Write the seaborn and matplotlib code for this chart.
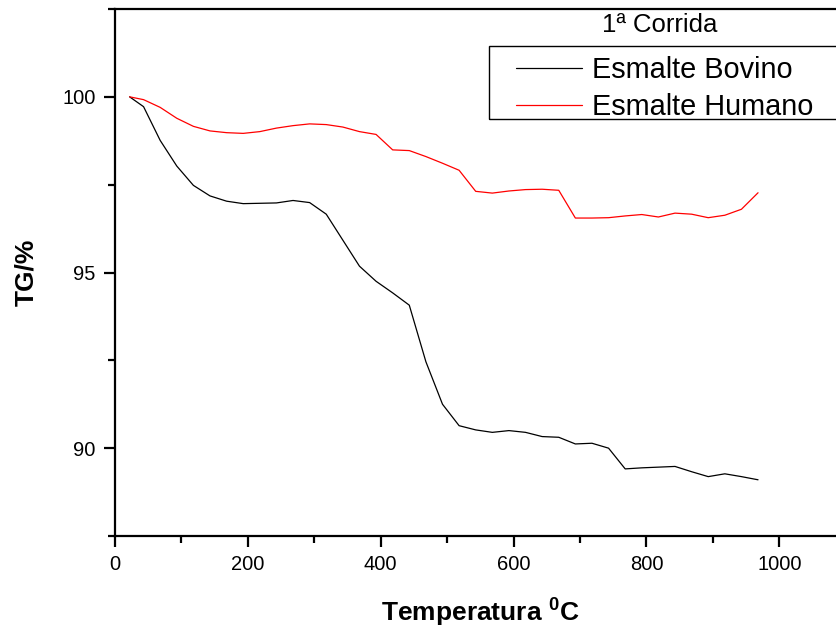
import matplotlib
matplotlib.use("Agg")
import matplotlib.pyplot as plt
from matplotlib.patches import Rectangle
from matplotlib.lines import Line2D
from matplotlib.ticker import MultipleLocator
import seaborn as sns
import pandas as pd

temps = [22, 43, 68, 93, 118, 143, 168, 193, 218, 243, 268, 293, 318, 343, 368,
         393, 418, 443, 468, 493, 518, 543, 568, 593, 618, 643, 668, 693, 718,
         743, 768, 793, 818, 843, 868, 893, 918, 943, 968]
bovino = [100.0, 99.72, 98.76, 98.03, 97.48, 97.18, 97.03, 96.96, 96.97, 96.98,
          97.05, 96.99, 96.66, 95.92, 95.18, 94.75, 94.42, 94.07, 92.46, 91.25,
          90.64, 90.52, 90.45, 90.50, 90.45, 90.33, 90.31, 90.12, 90.14, 90.00,
          89.41, 89.44, 89.46, 89.48, 89.33, 89.19, 89.27, 89.19, 89.10]
humano = [100.0, 99.92, 99.70, 99.39, 99.16, 99.03, 98.98, 98.96, 99.01, 99.11,
          99.18, 99.23, 99.21, 99.14, 99.01, 98.93, 98.49, 98.47, 98.30, 98.11,
          97.91, 97.31, 97.26, 97.32, 97.36, 97.37, 97.34, 96.55, 96.55, 96.56,
          96.61, 96.65, 96.58, 96.69, 96.66, 96.56, 96.63, 96.80, 97.27]
series_names = ["Esmalte Bovino", "Esmalte Humano"]
series_colors = ["black", "red"]
legend_title = "1ª Corrida"
x_label = r"Temperatura $\mathbf{^0}$C"
y_label = "TG/%"

df = pd.DataFrame({
    "T": temps * 2,
    "TG": bovino + humano,
    "amostra": [series_names[0]] * len(temps) + [series_names[1]] * len(temps),
})

sns.set_style("ticks")
plt.rcParams["font.family"] = ["Liberation Sans", "DejaVu Sans"]
plt.rcParams["mathtext.fontset"] = "custom"
plt.rcParams["mathtext.rm"] = "Liberation Sans"
plt.rcParams["mathtext.bf"] = "Liberation Sans:bold"
plt.rcParams["text.color"] = "black"
plt.rcParams["axes.labelcolor"] = "black"
plt.rcParams["xtick.color"] = "black"
plt.rcParams["ytick.color"] = "black"

W, H = 837, 633
fig = plt.figure(figsize=(W / 100, H / 100), dpi=100)
x0, x1 = 115, 115 + 1100 * 0.6643
y0, y1 = 536, 9
ax = fig.add_axes([x0 / W, (H - y0) / H, (x1 - x0) / W, (y0 - y1) / H])

sns.lineplot(data=df, x="T", y="TG", hue="amostra",
             palette=dict(zip(series_names, series_colors)),
             linewidth=0.9, ax=ax, legend=False, sort=False)

ax.set_xlim(0, 1100)
ax.set_ylim(87.5, 102.5)
ax.xaxis.set_major_locator(MultipleLocator(200))
ax.xaxis.set_minor_locator(MultipleLocator(100))
ax.yaxis.set_major_locator(MultipleLocator(5))
ax.yaxis.set_minor_locator(MultipleLocator(2.5))
for s in ax.spines.values():
    s.set_linewidth(1.6)
    s.set_color("black")
ax.tick_params(which="major", direction="out", length=8, width=1.6,
               labelsize=14.5, pad=6, colors="black")
ax.tick_params(which="minor", direction="out", length=5, width=1.6,
               colors="black")

ax.set_xlabel(x_label, fontsize=19, fontweight="bold", labelpad=16,
              color="black")
ax.set_ylabel(y_label, fontsize=19, fontweight="bold", labelpad=17,
              color="black")

# legend
handles = [Line2D([], [], color=c, lw=0.9) for c in series_colors]
leg = fig.legend(handles, series_names, loc="upper left",
                 bbox_to_anchor=(516 / W, (H - 56) / H),
                 frameon=False, fontsize=20.8, handlelength=2.3,
                 handletextpad=0.34, labelspacing=0.32, borderpad=0,
                 borderaxespad=0)
for t in leg.get_texts():
    t.set_color("black")
fig.patches.append(Rectangle((489 / W, (H - 119) / H), 0.5, 73 / H,
                             transform=fig.transFigure, fill=False,
                             edgecolor="black", linewidth=1.0))
fig.text(660 / W, (H - 25) / H, legend_title, fontsize=18.5,
         ha="center", va="center", color="black")

fig.savefig("out.png", dpi=100)
